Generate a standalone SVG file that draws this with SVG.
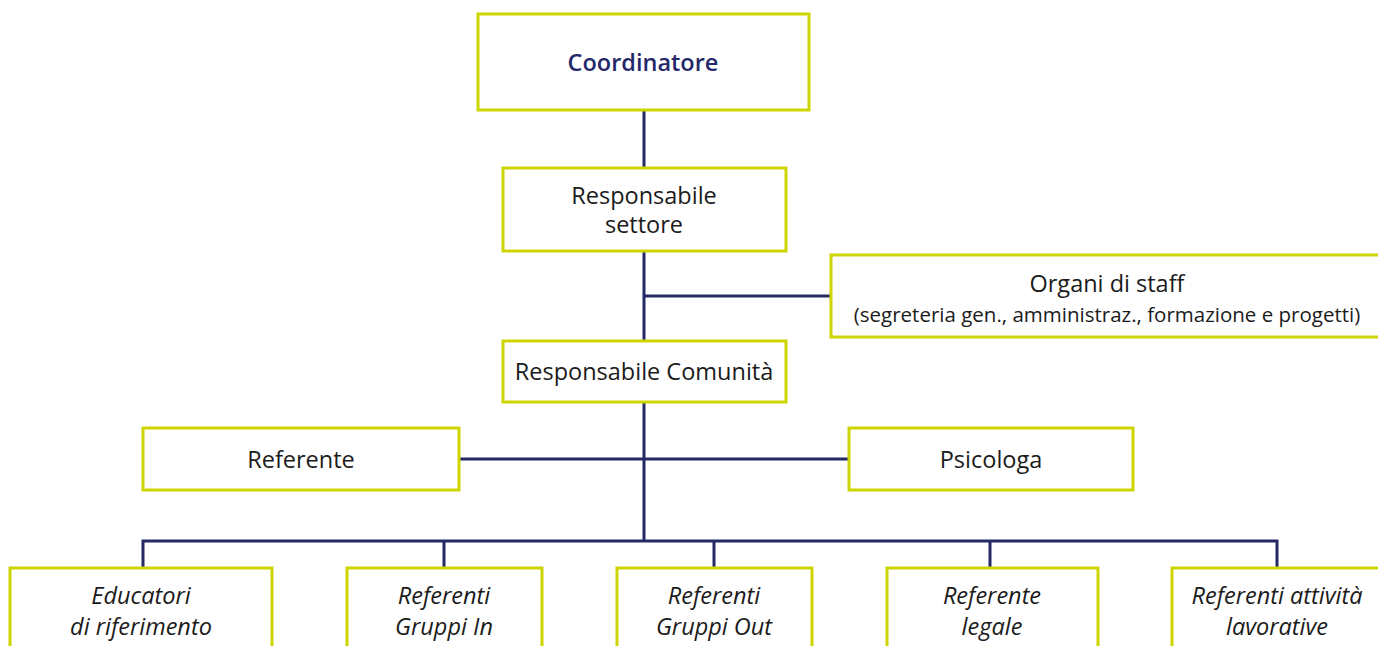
<svg xmlns="http://www.w3.org/2000/svg" width="1378" height="646" viewBox="0 0 1378 646">
<style>
.box{fill:#fff;stroke:#cdd500;stroke-width:3}
.ln{stroke:#252a64;stroke-width:3;fill:none}
text{font-family:"Open Sans","Noto Sans","Liberation Sans",sans-serif;font-size:23.5px;fill:#1b1b1b;text-anchor:middle;font-variant-ligatures:none}
.it{font-style:italic}
.sm{font-size:20.5px}
.bold{font-weight:600;fill:#25286a}
</style>
<rect width="1378" height="646" fill="#fff"/>
<g id="connectors">
<path class="ln" d="M644 110V168M644 251V340M644 296H832M644 402V541M459 459H849M143 568V541H1277V568M444 541V568M714 541V568M990 541V568"/>
</g>
<g id="coordinatore"><rect class="box" x="478" y="14" width="331" height="96"/><text class="bold" x="643" y="71">Coordinatore</text></g>
<g id="resp-settore"><rect class="box" x="503" y="168" width="283" height="83"/><text x="644" y="204">Responsabile</text><text x="644" y="233">settore</text></g>
<g id="organi-staff"><rect class="box" x="831" y="255" width="552" height="82"/><text x="1107" y="292">Organi di staff</text><text class="sm" x="1107" y="322">(segreteria gen., amministraz., formazione e progetti)</text></g>
<g id="resp-comunita"><rect class="box" x="503" y="341" width="283" height="61"/><text x="644" y="380">Responsabile Comunità</text></g>
<g id="referente"><rect class="box" x="143" y="428" width="316" height="62"/><text x="301" y="468">Referente</text></g>
<g id="psicologa"><rect class="box" x="849" y="428" width="284" height="62"/><text x="991" y="468">Psicologa</text></g>
<g id="educatori"><rect class="box" x="10" y="568" width="262" height="90"/><text class="it" x="141" y="604">Educatori</text><text class="it" x="141" y="635">di riferimento</text></g>
<g id="gruppi-in"><rect class="box" x="347" y="568" width="195" height="90"/><text class="it" x="444" y="604">Referenti</text><text class="it" x="444" y="635">Gruppi In</text></g>
<g id="gruppi-out"><rect class="box" x="617" y="568" width="195" height="90"/><text class="it" x="714" y="604">Referenti</text><text class="it" x="714" y="635">Gruppi Out</text></g>
<g id="legale"><rect class="box" x="887" y="568" width="211" height="90"/><text class="it" x="992" y="604">Referente</text><text class="it" x="992" y="635">legale</text></g>
<g id="lavorative"><rect class="box" x="1172" y="568" width="215" height="90"/><text class="it" x="1277" y="604">Referenti attività</text><text class="it" x="1277" y="635">lavorative</text></g>
</svg>
